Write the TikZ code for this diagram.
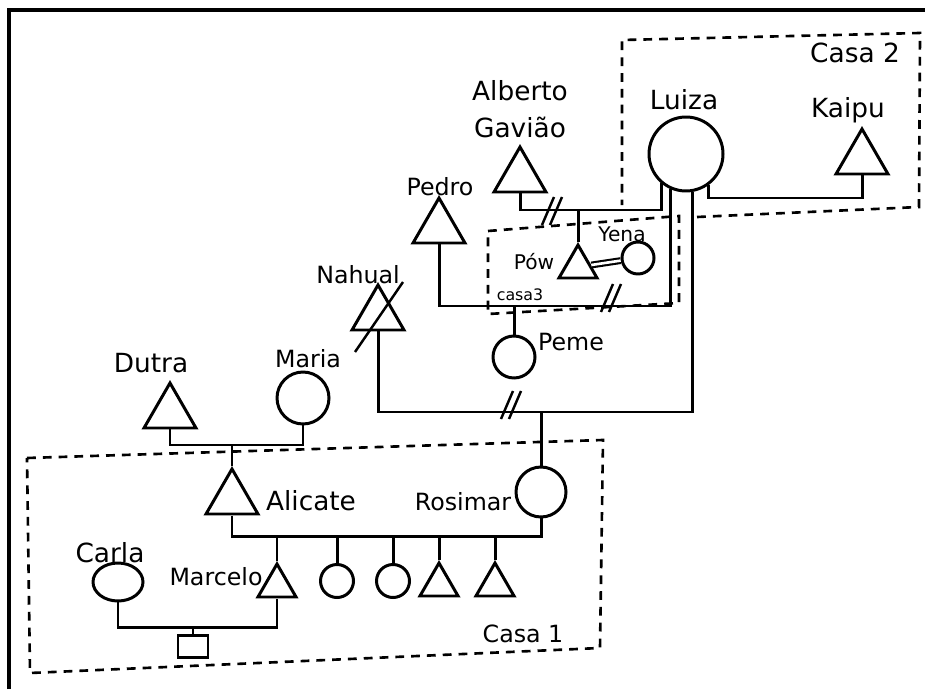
\documentclass[tikz,border=0pt]{standalone}
\usepackage{fontspec}
\setmainfont{DejaVu Sans}
\usetikzlibrary{shapes.geometric,positioning}

\begin{document}
\begin{tikzpicture}[
  x=0.02cm, y=-0.02cm, line width=1.7pt,
  male/.style={draw, regular polygon, regular polygon sides=3, minimum size=1.2cm, inner sep=0pt},
  malesm/.style={male, minimum size=0.88cm},
  female/.style={draw, circle, inner sep=0pt},
  house/.style={line width=1.5pt, dash pattern=on 5pt off 4pt},
  lbl/.style={font=\fontsize{15}{21}\selectfont, anchor=base, inner sep=0pt},
  lblmid/.style={lbl, font=\fontsize{13.5}{16}\selectfont},
  lblsmall/.style={lbl, font=\fontsize{11.5}{14}\selectfont},
  split/.style={line width=1.4pt}
]
\useasboundingbox (0,0) rectangle (925,689);
\draw[line width=1.8pt] (9,689) -- (9,10) -- (925,10);

% people
\node[female, minimum size=1.48cm] (luiza) at (686,154) {};
\node[male] (alberto) at (520,177) {};
\node[male] (kaipu) at (862,159) {};
\node[male] (pedro) at (439,228) {};
\node[male] (nahual) at (378,315) {};
\node[malesm] (pow) at (578,267) {};
\node[female, minimum size=0.64cm] (yena) at (638,258) {};
\node[female, minimum size=0.84cm] (peme) at (514,357) {};
\node[male] (dutra) at (170,413) {};
\node[female, minimum size=1.04cm] (maria) at (303,398) {};
\node[male] (alicate) at (232,499) {};
\node[female, minimum size=1.0cm] (rosimar) at (541,492) {};
\node[malesm] (marcelo) at (277,586) {};
\node[female, minimum size=0.66cm] (sib1) at (337,581) {};
\node[female, minimum size=0.66cm] (sib2) at (393,581) {};
\node[malesm] (sib3) at (439,585) {};
\node[malesm] (sib4) at (495,585) {};
\node[draw, ellipse, inner sep=0pt, minimum width=1.0cm, minimum height=0.76cm] (carla) at (118,582) {};
\node[draw, rectangle, inner sep=0pt, minimum width=0.6cm, minimum height=0.44cm] (baby) at (193,646) {};

% names
\node[lbl, anchor=center, align=center] (lalberto) at (520,109) {Alberto\\Gavião};
\node[lbl] (lluiza) at (684,110) {Luiza};
\node[lbl] (lkaipu) at (848,118) {Kaipu};
\node[lbl] (lcasa2) at (855,63) {Casa 2};
\node[lblmid] (lpedro) at (440,195) {Pedro};
\node[lblsmall] (lpow) at (534,269) {Pów};
\node[lblsmall] (lyena) at (622,241) {Yena};
\node[lbl, font=\fontsize{9}{11}\selectfont] (lcasa3) at (520,300) {casa3};
\node[lblmid] (lpeme) at (571,350) {Peme};
\node[lblmid] (lnahual) at (358,283) {Nahual};
\node[lbl] (ldutra) at (151,372) {Dutra};
\node[lblmid] (lmaria) at (308,367) {Maria};
\node[lbl] (lalicate) at (311,510) {Alicate};
\node[lblmid] (lrosimar) at (463,510) {Rosimar};
\node[lbl] (lcarla) at (110,562) {Carla};
\node[lblmid] (lmarcelo) at (216,585) {Marcelo};
\node[lblmid] (lcasa1) at (523,642) {Casa 1};

% houses
\draw[house] (697,217) -- (919,207) -- (920,33) -- (622,40) -- (622,205);
\draw[house] (488,231) -- (679,216) -- (679,303) -- (488,314) -- cycle;
\draw[house] (27,458) -- (603,440) -- (600,648) -- (30,673) -- cycle;

% Luiza's marriages
\draw (alberto.south) |- (luiza.230 |- 0,210) -- (luiza.230);
\draw (pedro.south) |- (luiza.246 |- 0,306) -- (luiza.246);
\draw (nahual.south) |- (luiza.279 |- 0,412) -- (luiza.279);
\draw (kaipu.south) |- (luiza.306 |- 0,198) -- (luiza.306);
\draw (pow.north) -- (pow.north |- 0,210);
\draw (peme.north) -- (peme.north |- 0,306);
\draw (rosimar.north) -- (rosimar.north |- 0,412);
\draw[line width=1.2pt, double, double distance=1.5pt] (pow) -- (yena);
\foreach \x/\y in {553/211, 612/298, 512/405}
  \draw[split, shift={(\x,\y)}] (-11,14) -- (1,-14) (-3,14) -- (9,-14);
\draw[split] ([shift={(-23,37)}]nahual.center) -- ([shift={(25,-33)}]nahual.center);

% Alicate's side
\draw (dutra.south) |- (maria.south |- 0,445) -- (maria.south);
\draw (alicate.north) -- (alicate.north |- 0,445);
\draw (alicate.south) |- (rosimar.south |- 0,536) -- (rosimar.south);
\foreach \k in {marcelo,sib1,sib2,sib3,sib4}
  \draw (\k.north) -- (\k.north |- 0,536);
\draw (carla.south) |- (marcelo.south |- 0,627) -- (marcelo.south);
\draw (baby.north) -- (baby.north |- 0,627);
\end{tikzpicture}
\end{document}
